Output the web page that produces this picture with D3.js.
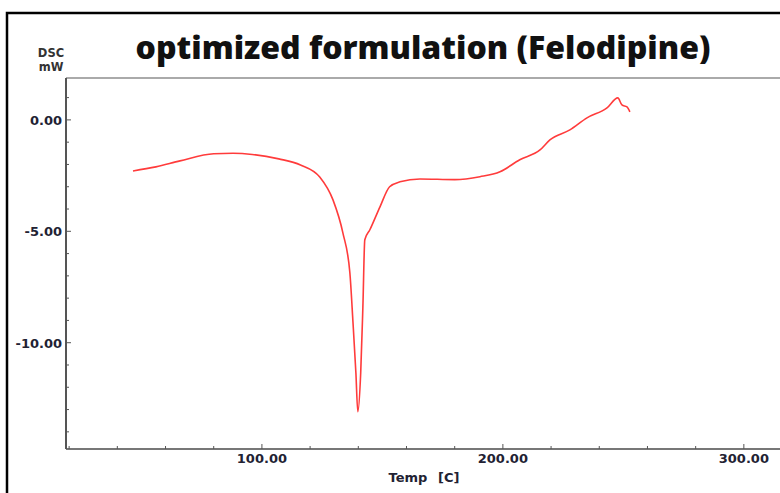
<!DOCTYPE html>
<html>
<head>
<meta charset="utf-8">
<script src="https://cdn.jsdelivr.net/npm/d3@7"></script>
<style>
  body { margin: 0; background: #fff; }
  svg { display: block; }
</style>
</head>
<body>
<svg id="chart" width="780" height="493"></svg>
<script>
/**
 * Data
 */
var temps = [46.5, 56, 66, 80, 88, 96, 107, 116, 124, 129.5, 133.6, 136.5, 137.8, 139, 139.8,
             141, 141.9, 142.7, 144.8, 149, 153, 157.3, 165.6, 180, 190.5, 198.8, 207, 215.4,
             219.5, 227.8, 234.9, 243.2, 247.7, 249.4, 251.5, 252.7];
var dsc = [-2.29, -2.11, -1.84, -1.52, -1.50, -1.55, -1.75, -2.02, -2.56, -3.59, -5.07, -6.86, -9.1, -11.35, -13.1,
           -11.35, -8.4, -5.38, -4.93, -3.9, -3.0, -2.78, -2.65, -2.68, -2.55, -2.33, -1.79, -1.35,
           -0.9, -0.45, 0.09, 0.54, 0.99, 0.67, 0.58, 0.36];
var xTicks = [100, 200, 300];
var yTicks = [0, -5, -10];

window.onload = function(){
    drawChart();
};

function drawChart(){
    let svg = d3.select("#chart");
    let left = 66, top = 78, right = 780, bottom = 449;

    let xScale = d3.scaleLinear().domain([18.7, 315]).range([left, right]);
    let yScale = d3.scaleLinear().domain([1.88, -14.77]).range([top, bottom]);

    // outer frame
    svg.append("rect")
        .attr("x", 7).attr("y", 13)
        .attr("width", 800).attr("height", 500)
        .style("fill", "none").style("stroke", "#000").style("stroke-width", 2.5);

    // title
    svg.append("text")
        .attr("x", 423).attr("y", 59)
        .attr("text-anchor", "middle")
        .style("font-family", "'Open Sans', sans-serif")
        .style("font-weight", 800)
        .style("font-size", "32px")
        .style("fill", "#111")
        .text("optimized formulation (Felodipine)");

    // unit labels
    svg.append("text").attr("x", 51).attr("y", 57).attr("text-anchor", "middle")
        .style("font-family", "'DejaVu Sans', sans-serif").style("font-weight", "bold")
        .style("font-size", "11.5px").style("fill", "#333").text("DSC");
    svg.append("text").attr("x", 51).attr("y", 71).attr("text-anchor", "middle")
        .style("font-family", "'DejaVu Sans', sans-serif").style("font-weight", "bold")
        .style("font-size", "11.5px").style("fill", "#333").text("mW");

    // axis frame lines
    svg.append("line").attr("x1", left).attr("x2", right).attr("y1", top).attr("y2", top)
        .style("stroke", "#aaa").style("stroke-width", 2);
    svg.append("line").attr("x1", left).attr("x2", right).attr("y1", bottom).attr("y2", bottom)
        .style("stroke", "#777").style("stroke-width", 2);
    svg.append("line").attr("x1", left).attr("x2", left).attr("y1", top).attr("y2", bottom)
        .style("stroke", "#555").style("stroke-width", 2);

    // minor ticks
    let xMinor = d3.range(20, 315, 20);
    svg.selectAll(".xminor").data(xMinor).enter().append("line")
        .attr("x1", d => xScale(d)).attr("x2", d => xScale(d))
        .attr("y1", bottom).attr("y2", d => (d % 100 === 0) ? bottom - 5 : bottom - 3)
        .style("stroke", "#555").style("stroke-width", 1);
    let yMinor = d3.range(-14, 2, 1);
    svg.selectAll(".yminor").data(yMinor).enter().append("line")
        .attr("x1", left).attr("x2", d => (d % 5 === 0) ? left + 5 : left + 3)
        .attr("y1", d => yScale(d)).attr("y2", d => yScale(d))
        .style("stroke", "#555").style("stroke-width", 1);

    // tick labels
    svg.selectAll(".xlab").data(xTicks).enter().append("text")
        .attr("x", d => xScale(d)).attr("y", 463)
        .attr("text-anchor", "middle")
        .style("font-family", "'DejaVu Sans', sans-serif").style("font-weight", "bold")
        .style("font-size", "13px").style("fill", "#223")
        .text(d => d.toFixed(2));
    svg.selectAll(".ylab").data(yTicks).enter().append("text")
        .attr("x", 62).attr("y", d => yScale(d) + 5)
        .attr("text-anchor", "end")
        .style("font-family", "'DejaVu Sans', sans-serif").style("font-weight", "bold")
        .style("font-size", "13px").style("fill", "#223")
        .text(d => d.toFixed(2));

    svg.append("text").attr("x", 424).attr("y", 482).attr("text-anchor", "middle")
        .style("font-family", "'DejaVu Sans', sans-serif").style("font-weight", "bold")
        .style("font-size", "13px").style("fill", "#223").style("word-spacing", "6px")
        .text("Temp [C]");

    // DSC curve
    let pts = temps.map((t, i) => [t, dsc[i]]);
    let line = d3.line()
        .x(d => xScale(d[0]))
        .y(d => yScale(d[1]))
        .curve(d3.curveMonotoneX);
    svg.append("path")
        .datum(pts)
        .attr("d", line)
        .style("fill", "none")
        .style("stroke", "#ff3b3b")
        .style("stroke-width", 1.6);
}
</script>
</body>
</html>
